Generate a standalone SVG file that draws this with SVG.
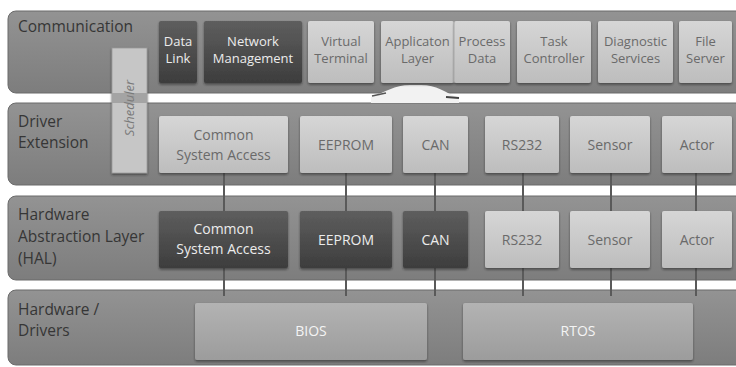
<svg xmlns="http://www.w3.org/2000/svg" width="736" height="367" viewBox="0 0 736 367">
<defs>
<linearGradient id="gBand" x1="0" y1="0" x2="0" y2="1">
<stop offset="0" stop-color="#939393"/><stop offset="1" stop-color="#7d7d7d"/>
</linearGradient>
<linearGradient id="gLight" x1="0" y1="0" x2="0" y2="1">
<stop offset="0" stop-color="#d6d6d6"/><stop offset="1" stop-color="#bdbdbd"/>
</linearGradient>
<linearGradient id="gDark" x1="0" y1="0" x2="0" y2="1">
<stop offset="0" stop-color="#5e5e5e"/><stop offset="1" stop-color="#3d3d3d"/>
</linearGradient>
<linearGradient id="gMid" x1="0" y1="0" x2="0" y2="1">
<stop offset="0" stop-color="#b3b3b3"/><stop offset="1" stop-color="#9c9c9c"/>
</linearGradient>
<filter id="sh" x="-10%" y="-10%" width="120%" height="130%">
<feDropShadow dx="0" dy="1.5" stdDeviation="0.8" flood-color="#222" flood-opacity="0.6"/>
</filter>
</defs>
<style>
.band{fill:url(#gBand);stroke:#6b6b6b;stroke-width:1}
.lbl{font-family:"Open Sans","Liberation Sans",sans-serif;font-size:15.5px;fill:#363636}
.light rect{fill:url(#gLight);filter:url(#sh)}
.dark rect{fill:url(#gDark);filter:url(#sh)}
.mid rect{fill:url(#gMid);filter:url(#sh)}
.light text{fill:#6a6a6a}
.dark text{fill:#ececec}
.mid text{fill:#f4f4f4}
text.t{font-family:"Open Sans","Liberation Sans",sans-serif;text-anchor:middle;font-size:14px}
text.s{font-size:13px}
.conn line{stroke:#5a5a5a;stroke-width:2}
</style>
<rect width="736" height="367" fill="#ffffff"/>
<g id="layers">
<g id="layer-communication"><rect class="band" x="8" y="11" width="740" height="82" rx="8"/><text class="lbl" x="18" y="32">Communication</text></g>
<g id="layer-driver-extension"><rect class="band" x="8" y="103" width="740" height="82" rx="8"/><text class="lbl" x="18" y="127">Driver</text><text class="lbl" x="18" y="148">Extension</text></g>
<g id="layer-hal"><rect class="band" x="8" y="196" width="740" height="84" rx="8"/><text class="lbl" x="18" y="220">Hardware</text><text class="lbl" x="18" y="242">Abstraction Layer</text><text class="lbl" x="18" y="264">(HAL)</text></g>
<g id="layer-hardware"><rect class="band" x="8" y="290" width="740" height="75" rx="8"/><text class="lbl" x="18" y="315">Hardware /</text><text class="lbl" x="18" y="336">Drivers</text></g>
</g>
<g id="arrow">
<path d="M371,97 C386,92 394,85 410,85 L421,85 C437,85 444,92 459,98 L459,103 L371,103 Z" fill="#f2f2f2"/>
<path d="M372,96 L386,93" stroke="#555" stroke-width="1.5" fill="none"/>
<path d="M446,97 L459,98" stroke="#444" stroke-width="2" fill="none"/>
</g>
<g id="scheduler">
<rect x="112" y="48" width="35" height="125" fill="#c6c6c6" stroke="#9a9a9a" stroke-width="0.8" filter="url(#sh)"/>
<rect x="112" y="93" width="35" height="10" fill="#a4a4a4"/>
<text transform="translate(134,108) rotate(-90)" text-anchor="middle" font-family="'Open Sans','Liberation Sans',sans-serif" font-style="italic" font-size="13px" fill="#7a7a7a">Scheduler</text>
</g>
<g id="connectors" class="conn">
<line x1="224" y1="173" x2="224" y2="211"/><line x1="346" y1="173" x2="346" y2="211"/><line x1="435" y1="173" x2="435" y2="211"/><line x1="523" y1="173" x2="523" y2="211"/><line x1="611" y1="173" x2="611" y2="211"/><line x1="696" y1="173" x2="696" y2="211"/>
<line x1="224" y1="268" x2="224" y2="296"/><line x1="346" y1="268" x2="346" y2="296"/><line x1="435" y1="268" x2="435" y2="296"/><line x1="523" y1="268" x2="523" y2="296"/><line x1="611" y1="268" x2="611" y2="296"/><line x1="696" y1="268" x2="696" y2="296"/>
</g>
<g id="comm-data-link" class="dark"><rect x="159" y="21" width="38" height="62" rx="2"/><text class="t s" x="178" y="45.5">Data</text><text class="t s" x="178" y="63.3">Link</text></g>
<g id="comm-network-management" class="dark"><rect x="204" y="21" width="98" height="62" rx="2"/><text class="t s" x="253" y="45.5">Network</text><text class="t s" x="253" y="63.3">Management</text></g>
<g id="comm-virtual-terminal" class="light"><rect x="308" y="21" width="66" height="62" rx="2"/><text class="t s" x="341" y="45.5">Virtual</text><text class="t s" x="341" y="63.3">Terminal</text></g>
<g id="comm-application-layer" class="light"><rect x="381" y="21" width="73" height="62" rx="2"/><text class="t s" x="417.5" y="45.5">Applicaton</text><text class="t s" x="417.5" y="63.3">Layer</text></g>
<g id="comm-process-data" class="light"><rect x="454" y="21" width="56" height="62" rx="2"/><line x1="454" y1="22" x2="454" y2="83" stroke="#a8a8a8" stroke-width="1"/><text class="t s" x="482" y="45.5">Process</text><text class="t s" x="482" y="63.3">Data</text></g>
<g id="comm-task-controller" class="light"><rect x="517" y="21" width="74" height="62" rx="2"/><text class="t s" x="554" y="45.5">Task</text><text class="t s" x="554" y="63.3">Controller</text></g>
<g id="comm-diagnostic-services" class="light"><rect x="598" y="21" width="75" height="62" rx="2"/><text class="t s" x="635.5" y="45.5">Diagnostic</text><text class="t s" x="635.5" y="63.3">Services</text></g>
<g id="comm-file-server" class="light"><rect x="679" y="21" width="53" height="62" rx="2"/><text class="t s" x="705.5" y="45.5">File</text><text class="t s" x="705.5" y="63.3">Server</text></g>
<g id="de-csa" class="light"><rect x="159" y="116" width="129" height="57" rx="2"/><text class="t" x="223.5" y="140">Common</text><text class="t" x="223.5" y="160">System Access</text></g>
<g id="de-eeprom" class="light"><rect x="300" y="116" width="92" height="57" rx="2"/><text class="t" x="346" y="150">EEPROM</text></g>
<g id="de-can" class="light"><rect x="403" y="116" width="65" height="57" rx="2"/><text class="t" x="435.5" y="150">CAN</text></g>
<g id="de-rs232" class="light"><rect x="485" y="116" width="74" height="57" rx="2"/><text class="t" x="522" y="150">RS232</text></g>
<g id="de-sensor" class="light"><rect x="570" y="116" width="80" height="57" rx="2"/><text class="t" x="610" y="150">Sensor</text></g>
<g id="de-actor" class="light"><rect x="662" y="116" width="70" height="57" rx="2"/><text class="t" x="697" y="150">Actor</text></g>
<g id="hal-csa" class="dark"><rect x="159" y="211" width="129" height="57" rx="2"/><text class="t" x="223.5" y="234">Common</text><text class="t" x="223.5" y="254">System Access</text></g>
<g id="hal-eeprom" class="dark"><rect x="300" y="211" width="92" height="57" rx="2"/><text class="t" x="346" y="245">EEPROM</text></g>
<g id="hal-can" class="dark"><rect x="403" y="211" width="65" height="57" rx="2"/><text class="t" x="435.5" y="245">CAN</text></g>
<g id="hal-rs232" class="light"><rect x="485" y="211" width="74" height="57" rx="2"/><text class="t" x="522" y="245">RS232</text></g>
<g id="hal-sensor" class="light"><rect x="570" y="211" width="80" height="57" rx="2"/><text class="t" x="610" y="245">Sensor</text></g>
<g id="hal-actor" class="light"><rect x="662" y="211" width="70" height="57" rx="2"/><text class="t" x="697" y="245">Actor</text></g>
<g id="hw-bios" class="mid"><rect x="195" y="303" width="232" height="57" rx="2"/><text class="t" x="311" y="336">BIOS</text></g>
<g id="hw-rtos" class="mid"><rect x="463" y="303" width="230" height="57" rx="2"/><text class="t" x="578" y="336">RTOS</text></g>
</svg>
